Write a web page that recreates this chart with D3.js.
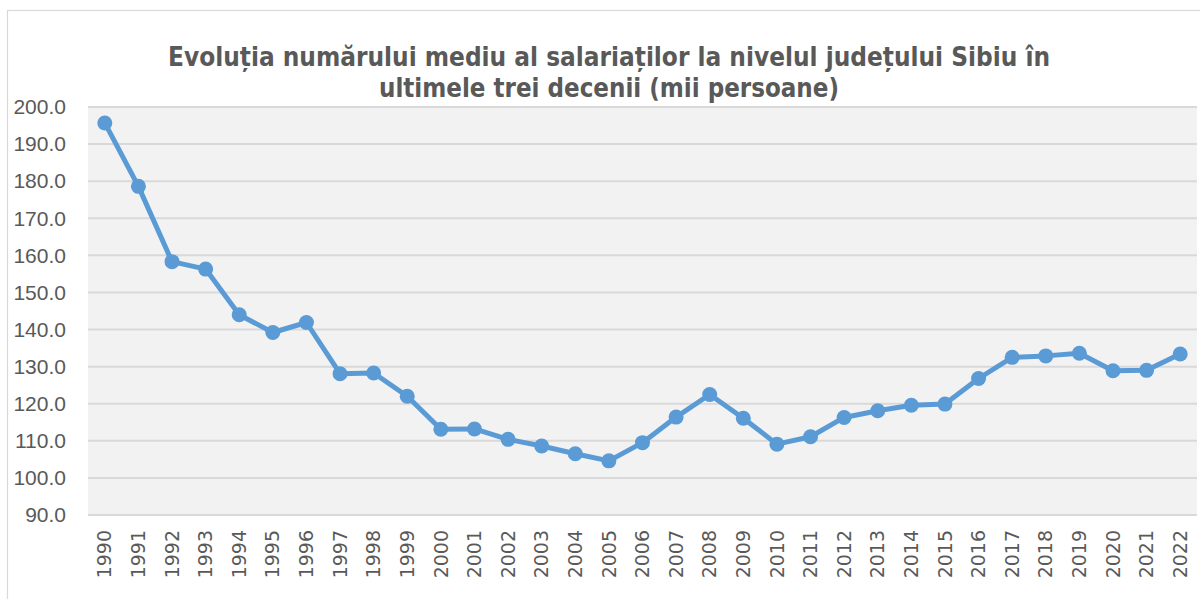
<!DOCTYPE html>
<html>
<head>
<meta charset="utf-8">
<script src="https://cdn.jsdelivr.net/npm/d3@7"></script>
<style>
    html, body { margin: 0; padding: 0; background: #ffffff; }
    svg { display: block; }
</style>
</head>
<body>
<div id="chart"></div>
<script>
// data
const years = ["1990", "1991", "1992", "1993", "1994", "1995", "1996", "1997", "1998", "1999",
    "2000", "2001", "2002", "2003", "2004", "2005", "2006", "2007", "2008", "2009",
    "2010", "2011", "2012", "2013", "2014", "2015", "2016", "2017", "2018", "2019",
    "2020", "2021", "2022"];
const employees = [195.7, 178.6, 158.3, 156.3, 144.0, 139.2, 141.9, 128.1, 128.3, 122.0,
    113.1, 113.2, 110.4, 108.6, 106.5, 104.6, 109.5, 116.4, 122.5, 116.1,
    109.1, 111.1, 116.3, 118.1, 119.6, 119.9, 126.8, 132.5, 132.9, 133.6,
    128.9, 129.0, 133.4];
const yTicks = [90, 100, 110, 120, 130, 140, 150, 160, 170, 180, 190, 200];
const titleLines = [
    "Evoluția numărului mediu al salariaților la nivelul județului Sibiu în",
    "ultimele trei decenii (mii persoane)"
];

const width = 1200, height = 599;
const plot = { left: 88, right: 1197, top: 107, bottom: 515 };

const svg = d3.select("#chart")
    .append("svg")
    .attr("width", width)
    .attr("height", height);

// chart frame
svg.append("rect")
    .attr("x", 7.5).attr("y", 10.5)
    .attr("width", 1200).attr("height", 600)
    .attr("fill", "#ffffff")
    .attr("stroke", "#d9d9d9")
    .attr("stroke-width", 1.2);

// =============================
// SCALES
// =============================
const x = d3.scaleBand()
    .domain(years)
    .range([plot.left, plot.right]);

const y = d3.scaleLinear()
    .domain([90, 200])
    .range([plot.bottom, plot.top]);

// plot area
svg.append("rect")
    .attr("x", plot.left).attr("y", plot.top)
    .attr("width", plot.right - plot.left)
    .attr("height", plot.bottom - plot.top)
    .attr("fill", "#f2f2f2");

// gridlines
svg.append("g")
    .selectAll("line")
    .data(yTicks)
    .enter()
    .append("line")
    .attr("x1", plot.left).attr("x2", plot.right)
    .attr("y1", d => y(d)).attr("y2", d => y(d))
    .attr("stroke", "#d9d9d9")
    .attr("stroke-width", 2);

// y axis labels
const yAxis = svg.append("g")
    .attr("transform", `translate(${plot.left - 22},0)`)
    .call(d3.axisLeft(y).tickValues(yTicks).tickFormat(d3.format(".1f")).tickSize(0).tickPadding(0));
yAxis.select(".domain").remove();
yAxis.selectAll("text")
    .attr("fill", "#595959")
    .style("font-family", "'Liberation Sans', Arial, sans-serif")
    .style("font-size", "21px");

// x axis labels (rotated)
const xAxis = svg.append("g")
    .attr("transform", `translate(0,${plot.bottom})`)
    .call(d3.axisBottom(x).tickSize(0).tickPadding(0));
xAxis.select(".domain").remove();
xAxis.selectAll("text")
    .attr("transform", "rotate(-90)")
    .attr("text-anchor", "end")
    .attr("x", -15)
    .attr("y", 0)
    .attr("dy", "0.35em")
    .attr("fill", "#595959")
    .style("font-family", "'DejaVu Sans', sans-serif")
    .style("font-size", "19px");

// =============================
// LINE + MARKERS
// =============================
const line = d3.line()
    .x((d, i) => x(years[i]) + x.bandwidth() / 2)
    .y(d => y(d));

svg.append("path")
    .datum(employees)
    .attr("d", line)
    .attr("fill", "none")
    .attr("stroke", "#5b9bd5")
    .attr("stroke-width", 5)
    .attr("stroke-linejoin", "round");

svg.append("g")
    .selectAll("circle")
    .data(employees)
    .enter()
    .append("circle")
    .attr("cx", (d, i) => x(years[i]) + x.bandwidth() / 2)
    .attr("cy", d => y(d))
    .attr("r", 7.5)
    .attr("fill", "#5b9bd5");

// =============================
// TITLE
// =============================
const titleWidths = [882, 460];
svg.append("g")
    .selectAll("text")
    .data(titleLines)
    .enter()
    .append("text")
    .attr("x", 609)
    .attr("y", (d, i) => 66 + i * 31)
    .attr("text-anchor", "middle")
    .attr("textLength", (d, i) => titleWidths[i])
    .attr("lengthAdjust", "spacingAndGlyphs")
    .attr("fill", "#595959")
    .style("font-family", "'Liberation Sans Narrow', 'DejaVu Sans Condensed', sans-serif")
    .style("font-weight", "bold")
    .style("font-size", "26px")
    .text(d => d);
</script>
</body>
</html>
